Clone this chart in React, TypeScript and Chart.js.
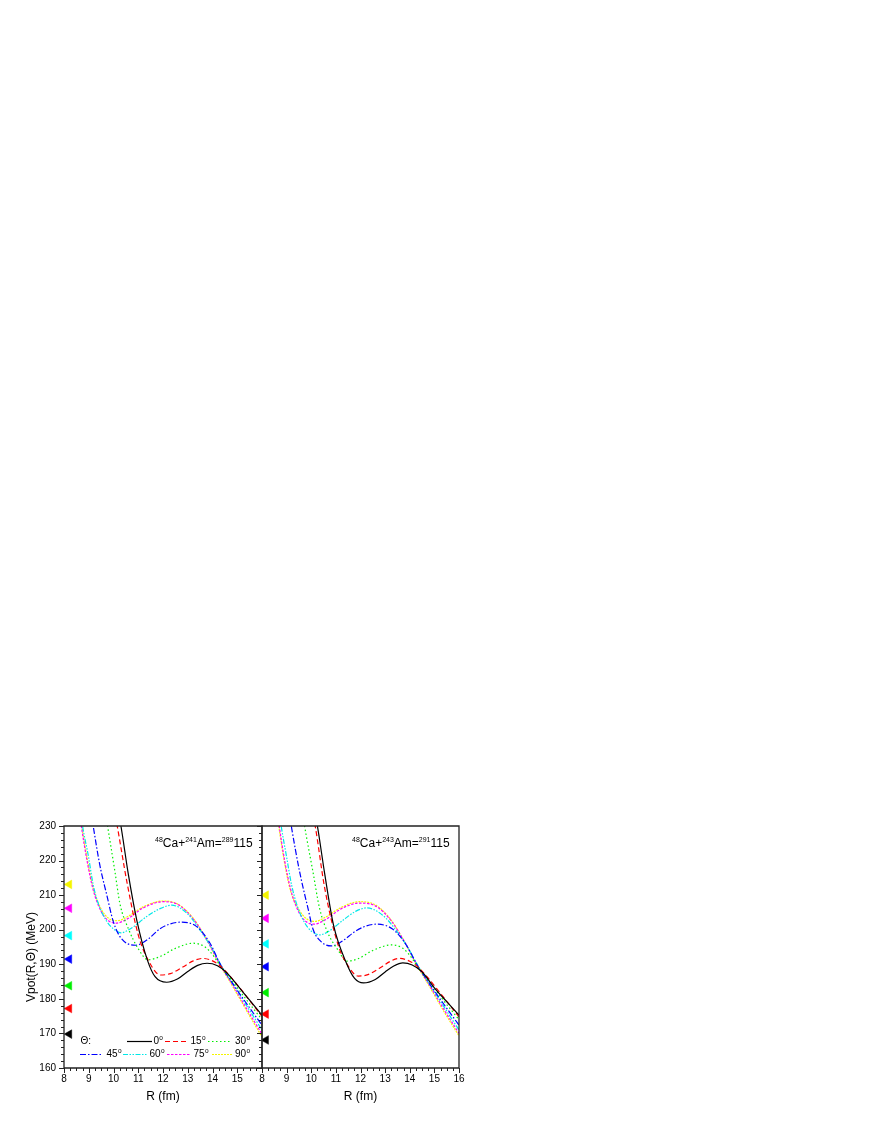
import React, { useEffect, useRef } from 'react';
import { Chart, registerables } from 'chart.js';
Chart.register(...registerables);

const FONT = '"Liberation Sans", Arial, sans-serif';

// ---- common ----
const ANGLE_LABELS = ['0', '15', '30', '45', '60', '75', '90'];
const SERIES_COLORS = ['#000000', '#ff0000', '#00ee00', '#0000ff', '#00e8e8', '#ff00ff', '#f5f500'];
const SERIES_DASHES = [[], [5, 3], [1.5, 2.5], [6, 2, 1.5, 2], [5, 1.5, 1.5, 1.5, 1.5, 1.5], [2.5, 1.5], [2, 1]];
const X_TICKS = [8, 9, 10, 11, 12, 13, 14, 15, 16];
const Y_TICKS = [160, 170, 180, 190, 200, 210, 220, 230];

// ---- 48Ca+241Am (left panel) ----
const am241_R0 = [10.1, 10.3, 10.6, 10.94, 11.37, 11.68, 12.15, 12.6, 13.0, 13.4, 13.78, 14.2, 14.57, 15.0, 15.5, 16.0];
const am241_V0 = [237.5, 230, 216, 202.8, 191.2, 186.4, 184.8, 185.8, 187.9, 189.7, 190.3, 189.6, 187.6, 184.0, 179.6, 175.3];
const am241_R15 = [9.95, 10.15, 10.55, 11.0, 11.47, 11.9, 12.3, 12.8, 13.2, 13.6, 14.0, 14.3, 14.7, 15.2, 15.6, 16.0];
const am241_V15 = [237.5, 230, 213.5, 198.5, 190.3, 186.9, 187.3, 189.2, 190.9, 191.7, 191.0, 189.6, 186.6, 182.3, 178.6, 174.9];
const am241_R30 = [9.6, 9.76, 10.06, 10.26, 10.6, 11.0, 11.4, 11.9, 12.5, 13.22, 13.7, 14.0, 14.3, 14.7, 15.3, 16.0];
const am241_V30 = [237, 230, 216.7, 207.5, 200.3, 194.5, 191.3, 192.3, 194.6, 196.1, 195.0, 192.8, 189.7, 186.1, 180.4, 174.0];
const am241_R45 = [9.05, 9.18, 9.45, 9.73, 9.99, 10.3, 10.9, 11.4, 11.88, 12.3, 12.75, 13.36, 13.9, 14.3, 14.8, 15.4, 16.0];
const am241_V45 = [236, 230, 218.6, 210, 202.4, 197.6, 195.5, 197.3, 200.3, 201.7, 202.2, 200.9, 196.1, 190.2, 184.6, 178.4, 172.4];
const am241_R60 = [8.62, 8.75, 8.98, 9.18, 9.39, 9.72, 9.99, 10.3, 10.67, 11.34, 11.88, 12.35, 12.96, 13.5, 14.03, 14.3, 14.8, 15.4, 16.0];
const am241_V60 = [237, 230, 221.5, 213, 207.5, 202.5, 200.3, 199.1, 200.2, 203.8, 206.1, 207.1, 204.8, 199.9, 193.9, 190.3, 184.6, 177.8, 171.0];
const am241_R75 = [8.57, 8.7, 8.93, 9.18, 9.5, 9.8, 10.1, 10.6, 11.2, 12.0, 12.6, 13.2, 13.7, 14.3, 14.8, 15.4, 16.0];
const am241_V75 = [237, 230, 220, 211.5, 205.3, 202.6, 201.9, 203.3, 206.3, 208.1, 207.3, 203.3, 197.9, 190.0, 184.2, 176.9, 169.8];
const am241_R90 = [8.59, 8.72, 8.95, 9.2, 9.5, 9.8, 10.15, 10.6, 11.2, 12.0, 12.6, 13.2, 13.7, 14.3, 14.8, 15.4, 16.0];
const am241_V90 = [237, 230, 220, 211.5, 206, 203.3, 202.6, 203.9, 206.6, 208.3, 207.4, 203.5, 198.0, 189.8, 183.8, 176.3, 169.0];
const am241_markerR = 8.21;
const am241_markerV = [169.8, 177.2, 183.8, 191.5, 198.3, 206.2, 213.1];

// ---- 48Ca+243Am (right panel) ----
const am243_R0 = [10.05, 10.25, 10.55, 10.9, 11.4, 11.76, 12.12, 12.6, 13.0, 13.35, 13.72, 14.1, 14.5, 15.0, 15.5, 16.0];
const am243_V0 = [237.5, 230, 216, 201.5, 190.8, 185.9, 184.6, 185.6, 187.8, 189.5, 190.4, 189.8, 187.8, 183.2, 179.2, 175.3];
const am243_R15 = [9.95, 10.16, 10.55, 11.09, 11.43, 11.91, 12.3, 12.8, 13.2, 13.55, 14.0, 14.3, 14.7, 15.2, 15.6, 16.0];
const am243_V15 = [237.5, 230, 211.9, 195.6, 190.3, 186.6, 187.0, 189.0, 190.8, 191.7, 190.9, 189.4, 186.4, 182.0, 178.4, 174.8];
const am243_R30 = [9.58, 9.73, 10.07, 10.34, 10.68, 11.09, 11.44, 11.9, 12.5, 13.27, 13.7, 14.0, 14.3, 14.7, 15.3, 16.0];
const am243_V30 = [237, 230, 216.7, 206.1, 199.0, 194.1, 190.9, 191.6, 194.0, 195.6, 194.7, 192.6, 189.5, 185.9, 180.2, 174.0];
const am243_R45 = [9.05, 9.19, 9.53, 9.87, 10.07, 10.41, 10.81, 11.3, 11.76, 12.2, 12.65, 13.3, 13.85, 14.3, 14.8, 15.4, 16.0];
const am243_V45 = [236.5, 230, 216.7, 206.1, 200.2, 196.5, 195.3, 196.9, 199.4, 201.0, 201.6, 200.2, 195.7, 189.8, 184.4, 178.3, 172.4];
const am243_R60 = [8.65, 8.78, 9.0, 9.2, 9.45, 9.75, 10.0, 10.34, 10.7, 11.3, 11.8, 12.25, 12.9, 13.5, 14.0, 14.3, 14.8, 15.4, 16.0];
const am243_V60 = [237, 230, 221, 213, 206.5, 201.8, 199.6, 198.5, 199.5, 202.8, 205.3, 206.3, 204.2, 199.3, 193.9, 190.0, 184.3, 177.6, 171.0];
const am243_R75 = [8.57, 8.7, 8.92, 9.17, 9.5, 9.8, 10.1, 10.6, 11.2, 11.95, 12.6, 13.2, 13.7, 14.3, 14.8, 15.4, 16.0];
const am243_V75 = [237, 230, 220, 211.5, 205.0, 202.3, 201.6, 203.0, 206.0, 207.7, 206.9, 203.0, 197.6, 189.8, 184.0, 176.8, 170.0];
const am243_R90 = [8.55, 8.68, 8.9, 9.15, 9.5, 9.8, 10.14, 10.6, 11.2, 11.95, 12.6, 13.2, 13.7, 14.3, 14.8, 15.4, 16.0];
const am243_V90 = [237, 230, 220, 211.5, 205.8, 203.2, 202.4, 203.7, 206.4, 208.1, 207.2, 203.2, 197.6, 189.6, 183.6, 176.2, 169.3];
const am243_markerR = 8.16;
const am243_markerV = [168.1, 175.6, 181.8, 189.3, 195.9, 203.3, 210.0];

const LABEL_241: [string, boolean][] = [['48', true], ['Ca+', false], ['241', true], ['Am=', false], ['289', true], ['115', false]];
const LABEL_243: [string, boolean][] = [['48', true], ['Ca+', false], ['243', true], ['Am=', false], ['291', true], ['115', false]];

const Y_TITLE = 'Vpot(R,Θ) (MeV)';
const X_TITLE = 'R (fm)';
const LEGEND_HEAD = 'Θ:';

function buildDatasets(Rs: number[][], Vs: number[][], markerR: number, markerV: number[]) {
  const lines = Rs.map((r, i) => ({
    type: 'line' as const,
    data: r.map((x, j) => ({ x, y: Vs[i][j] })),
    borderColor: SERIES_COLORS[i],
    borderWidth: 1.2,
    borderDash: SERIES_DASHES[i],
    pointRadius: 0,
    fill: false,
    cubicInterpolationMode: 'monotone' as const,
  }));
  const markers = markerV.map((v, i) => ({
    type: 'scatter' as const,
    data: [{ x: markerR, y: v }],
    pointStyle: 'triangle',
    rotation: -90,
    pointRadius: 5,
    backgroundColor: SERIES_COLORS[i] === '#00e8e8' ? '#00ffff' : SERIES_COLORS[i],
    borderColor: SERIES_COLORS[i] === '#00e8e8' ? '#00ffff' : SERIES_COLORS[i],
    borderWidth: 0.5,
  }));
  return [...lines, ...markers];
}

function framePlugin(yOuter: boolean, yInnerRight: boolean) {
  return {
    id: 'frameTicks',
    afterDatasetsDraw(chart: any) {
      const { ctx, chartArea } = chart;
      const { left, right, top, bottom } = chartArea;
      const xs = chart.scales.x;
      const ys = chart.scales.y;
      ctx.save();
      ctx.strokeStyle = '#222';
      ctx.lineWidth = 1.3;
      ctx.beginPath();
      ctx.rect(left, top, right - left, bottom - top);
      ctx.stroke();
      ctx.lineWidth = 1;
      ctx.beginPath();
      for (let i = 0; i <= 32; i++) {
        const v = X_TICKS[0] + i * 0.25;
        const px = Math.round(xs.getPixelForValue(v)) + 0.5;
        const len = i % 4 === 0 ? 5 : 3;
        ctx.moveTo(px, bottom);
        ctx.lineTo(px, bottom + len);
      }
      if (yOuter || yInnerRight) {
        for (let v = Y_TICKS[0]; v <= Y_TICKS[Y_TICKS.length - 1]; v += 2) {
          const py = Math.round(ys.getPixelForValue(v)) + 0.5;
          const len = v % 10 === 0 ? 5 : 3;
          if (yOuter) { ctx.moveTo(left - len, py); ctx.lineTo(left, py); }
          if (yInnerRight) { ctx.moveTo(right, py); ctx.lineTo(right - len, py); }
        }
      }
      ctx.stroke();
      ctx.restore();
    },
  };
}

function drawRich(ctx: CanvasRenderingContext2D, x: number, y: number, parts: [string, boolean][]) {
  let cx = x;
  ctx.textBaseline = 'alphabetic';
  ctx.textAlign = 'left';
  for (const [t, sup] of parts) {
    ctx.font = sup ? `7px ${FONT}` : `12px ${FONT}`;
    ctx.fillText(t, cx, sup ? y - 5.5 : y);
    cx += ctx.measureText(t).width;
  }
}

function textPlugin(offX: number, offY: number, label: [string, boolean][], labelX: number, withLegend: boolean) {
  return {
    id: 'texts',
    afterDraw(chart: any) {
      const ctx: CanvasRenderingContext2D = chart.ctx;
      ctx.save();
      ctx.fillStyle = '#000';
      drawRich(ctx, labelX - offX, 847 - offY, label);
      if (withLegend) {
        ctx.save();
        ctx.translate(32 - offX, 957 - offY);
        ctx.rotate(-Math.PI / 2);
        ctx.font = `12px ${FONT}`;
        ctx.textAlign = 'center';
        ctx.textBaseline = 'middle';
        ctx.fillText(Y_TITLE, 0, 0);
        ctx.restore();
        const rows = [1041.5, 1054.5];
        const layout = [
          [0, 127, 152, 153.5], [0, 165, 186, 190.5], [0, 208, 230, 235],
          [1, 80, 103, 106.5], [1, 123, 147, 149.5], [1, 167, 190, 193.5], [1, 212, 233, 235],
        ];
        ctx.font = `10px ${FONT}`;
        ctx.textBaseline = 'middle';
        ctx.textAlign = 'left';
        ctx.fillText(LEGEND_HEAD, 80.5 - offX, rows[0] - offY);
        layout.forEach(([row, x0, x1, tx], i) => {
          const y = rows[row] - offY;
          ctx.beginPath();
          ctx.strokeStyle = SERIES_COLORS[i];
          ctx.lineWidth = 1.2;
          ctx.setLineDash(SERIES_DASHES[i]);
          ctx.moveTo(x0 - offX, y);
          ctx.lineTo(x1 - offX, y);
          ctx.stroke();
          ctx.setLineDash([]);
          ctx.font = `10px ${FONT}`;
          ctx.fillText(ANGLE_LABELS[i], tx - offX, y);
          const w = ctx.measureText(ANGLE_LABELS[i]).width;
          ctx.font = `6.5px ${FONT}`;
          ctx.fillText('o', tx - offX + w + 0.3, y - 3.5);
        });
      }
      ctx.restore();
    },
  };
}

function makeOptions(showY: boolean, padding: any, hide16: boolean) {
  return {
    responsive: false,
    animation: false as const,
    devicePixelRatio: 1,
    layout: { padding, autoPadding: false },
    plugins: { legend: { display: false }, tooltip: { enabled: false } },
    scales: {
      x: {
        type: 'linear' as const,
        min: 8,
        max: 16,
        afterBuildTicks: (scale: any) => { scale.ticks = X_TICKS.map((v) => ({ value: v })); },
        afterFit: (scale: any) => {
          scale.height = 42;
          scale.paddingLeft = 0;
          scale.paddingRight = 0;
        },
        grid: { display: false, drawTicks: false },
        border: { display: false },
        ticks: {
          font: { size: 10, family: FONT },
          color: '#000',
          padding: 5,
          maxRotation: 0,
          autoSkip: false,
          callback: (v: any) => (hide16 && v === 16 ? '' : String(v)),
        },
        title: { display: true, text: X_TITLE, color: '#000', font: { size: 12, family: FONT }, padding: { top: 0, bottom: 6 } },
      },
      y: {
        type: 'linear' as const,
        display: showY,
        min: 160,
        max: 230,
        afterBuildTicks: (scale: any) => { scale.ticks = Y_TICKS.map((v) => ({ value: v })); },
        afterFit: (scale: any) => {
          scale.width = showY ? 64 : 0;
          scale.paddingTop = 0;
          scale.paddingBottom = 0;
        },
        grid: { display: false, drawTicks: false },
        border: { display: false },
        ticks: { font: { size: 10, family: FONT }, color: '#000', padding: 8 },
      },
    },
  };
}

export default function App() {
  const leftRef = useRef<HTMLCanvasElement>(null);
  const rightRef = useRef<HTMLCanvasElement>(null);

  useEffect(() => {
    const left = new Chart(leftRef.current!, {
      type: 'line',
      data: {
        datasets: buildDatasets(
          [am241_R0, am241_R15, am241_R30, am241_R45, am241_R60, am241_R75, am241_R90],
          [am241_V0, am241_V15, am241_V30, am241_V45, am241_V60, am241_V75, am241_V90],
          am241_markerR, am241_markerV,
        ) as any,
      },
      options: makeOptions(true, { left: 0, top: 16, right: 6, bottom: 0 }, true) as any,
      plugins: [framePlugin(true, true), textPlugin(0, 810, LABEL_241, 155, true)],
    });
    const right = new Chart(rightRef.current!, {
      type: 'line',
      data: {
        datasets: buildDatasets(
          [am243_R0, am243_R15, am243_R30, am243_R45, am243_R60, am243_R75, am243_R90],
          [am243_V0, am243_V15, am243_V30, am243_V45, am243_V60, am243_V75, am243_V90],
          am243_markerR, am243_markerV,
        ) as any,
      },
      options: makeOptions(false, { left: 6, top: 16, right: 9, bottom: 0 }, false) as any,
      plugins: [framePlugin(false, false), textPlugin(256, 810, LABEL_243, 352, false)],
    });
    return () => { left.destroy(); right.destroy(); };
  }, []);

  return (
    <div style={{ position: 'absolute', left: 0, top: 0, width: 872, height: 1128 }}>
      <canvas ref={leftRef} width={268} height={300} style={{ position: 'absolute', left: 0, top: 810, width: 268, height: 300 }} />
      <canvas ref={rightRef} width={212} height={300} style={{ position: 'absolute', left: 256, top: 810, width: 212, height: 300 }} />
    </div>
  );
}
